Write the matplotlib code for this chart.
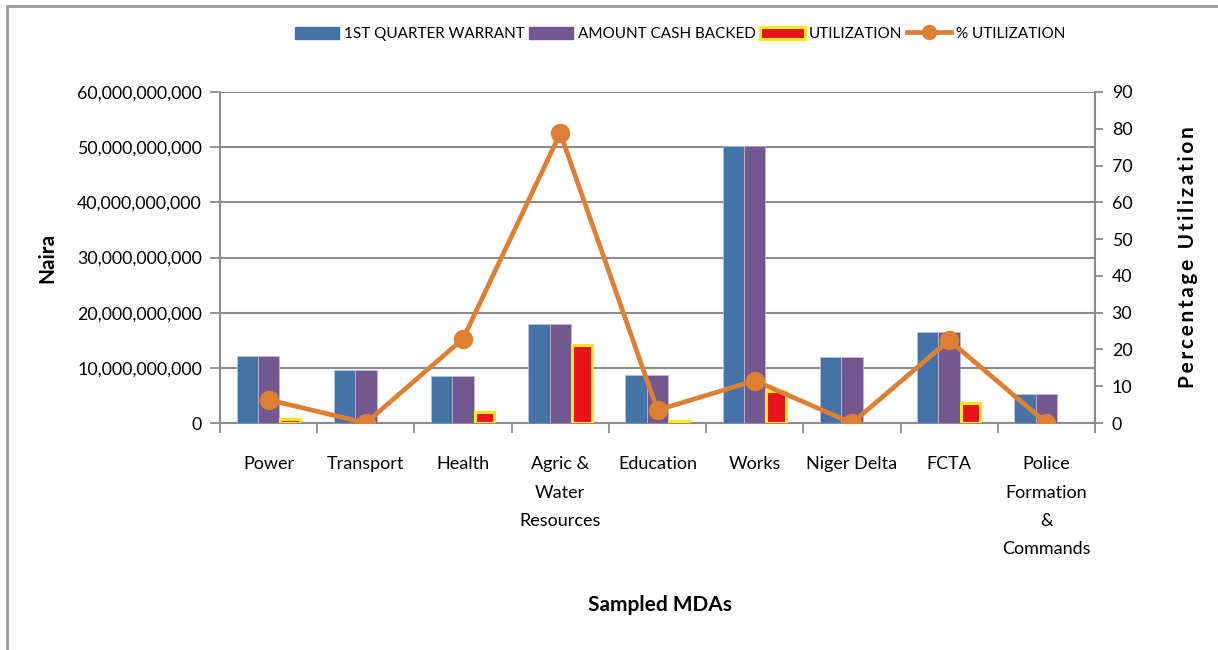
import matplotlib
matplotlib.use("Agg")
import matplotlib.pyplot as plt
import numpy as np
from matplotlib.ticker import FuncFormatter, MultipleLocator, FixedLocator, NullFormatter
from matplotlib.lines import Line2D
from matplotlib.patches import Rectangle

plt.rcParams['font.family'] = ['Lato', 'DejaVu Sans']

categories = ["Power", "Transport", "Health", "Agric &\nWater\nResources", "Education",
              "Works", "Niger Delta", "FCTA", "Police\nFormation\n&\nCommands"]
warrant = [12.1e9, 9.6e9, 8.5e9, 17.9e9, 8.7e9, 50.3e9, 12.0e9, 16.5e9, 5.2e9]
cash_backed = [12.1e9, 9.6e9, 8.5e9, 17.9e9, 8.7e9, 50.3e9, 12.0e9, 16.5e9, 5.2e9]
utilization = [0.75e9, 0.0, 1.95e9, 14.1e9, 0.3e9, 5.8e9, 0.0, 3.7e9, 0.0]
pct_utilization = [6.3, 0.0, 22.9, 78.8, 3.5, 11.5, 0.0, 22.5, 0.0]

c_blue = "#4572a7"
c_purple = "#71588f"
c_red = "#e8141b"
c_yellow = "#ffe81a"
c_orange = "#dd8034"
c_grid = "#8c8c8c"

fig = plt.figure(figsize=(12.18, 6.5), dpi=100)
ax = fig.add_axes([220/1218, 1-423/650, (1095-220)/1218, (423-92)/650])

x = np.arange(len(categories))
w = 0.22
ax.bar(x - w, warrant, w, color=c_blue, edgecolor="#b9c7dc", linewidth=0.5, zorder=3)
ax.bar(x, cash_backed, w, color=c_purple, edgecolor="#c4b8d4", linewidth=0.5, zorder=3)
util = np.array(utilization)
ax.bar(x + w, util, w * 0.92, color=c_red, edgecolor=c_yellow,
       linewidth=np.where(util > 0, 2.2, 0.0), zorder=3)

ax.set_xlim(-0.5, len(categories) - 0.5)
ax.set_ylim(0, 60e9)
ax.yaxis.set_major_locator(MultipleLocator(10e9))
ax.yaxis.set_major_formatter(FuncFormatter(lambda v, p: f"{v:,.0f}"))
ax.grid(axis="y", color=c_grid, linewidth=1.5, zorder=0)
ax.set_axisbelow(True)

ax.xaxis.set_major_locator(FixedLocator(np.arange(-0.5, len(categories), 1.0)))
ax.xaxis.set_major_formatter(NullFormatter())
ax.xaxis.set_minor_locator(FixedLocator(x))
ax.set_xticklabels(categories, minor=True, fontsize=13, linespacing=1.95, va="top")
ax.tick_params(axis="x", which="major", length=7, width=1.3, color=c_grid, direction="out")
ax.tick_params(axis="x", which="minor", length=0, pad=24)
ax.tick_params(axis="y", length=7, width=1.3, color=c_grid, labelsize=12.8, pad=6)

for s in ["top", "right"]:
    ax.spines[s].set_visible(False)
for s in ["left", "bottom"]:
    ax.spines[s].set_color(c_grid)
    ax.spines[s].set_linewidth(1.5)

ax.set_ylabel("Naira", fontsize=15, fontweight="bold")
ax.yaxis.set_label_coords((57 - 220) / 875, 0.5)
ax.set_xlabel("Sampled MDAs", fontsize=15, fontweight="bold")
ax.xaxis.set_label_coords((660 - 220) / 875, -(595 - 423) / 331)

ax2 = ax.twinx()
ax2.plot(x, pct_utilization, color=c_orange, linewidth=3.4, marker="o", markersize=13, zorder=5)
ax2.set_ylim(0, 90)
ax2.yaxis.set_major_locator(MultipleLocator(10))
ax2.tick_params(axis="y", length=6, width=1.3, color=c_grid, labelsize=12.8, pad=6)
for s in ["top", "left", "bottom"]:
    ax2.spines[s].set_visible(False)
ax2.spines["right"].set_color(c_grid)
ax2.spines["right"].set_linewidth(1.5)
ax2.set_ylabel("\u2009".join("Percentage Utilization"), fontsize=15, fontweight="bold")
ax2.yaxis.set_label_coords((1178 - 220) / 875, 0.5)

handles = [
    Rectangle((0, 0), 1, 1, facecolor=c_blue, edgecolor=c_blue),
    Rectangle((0, 0), 1, 1, facecolor=c_purple, edgecolor=c_purple),
    Rectangle((0, 0), 1, 1, facecolor=c_red, edgecolor=c_yellow, linewidth=2.2),
    Line2D([0], [0], color=c_orange, linewidth=3.4, marker="o", markersize=10),
]
labels = ["1ST QUARTER WARRANT", "AMOUNT CASH BACKED", "UTILIZATION", "% UTILIZATION"]
fig.legend(handles, labels, loc="center", bbox_to_anchor=(680/1218, 1-34/650), ncol=4,
           frameon=False, fontsize=11, handlelength=2.9, handleheight=0.9,
           handletextpad=0.3, columnspacing=0.3)

# outer chart frame
fig.patches.append(Rectangle((7/1218, -0.05), 1.2, 1 - 6/650 + 0.05, transform=fig.transFigure,
                             fill=False, edgecolor="#9a9a9a", linewidth=2.0))

fig.savefig("out.png", dpi=100)
